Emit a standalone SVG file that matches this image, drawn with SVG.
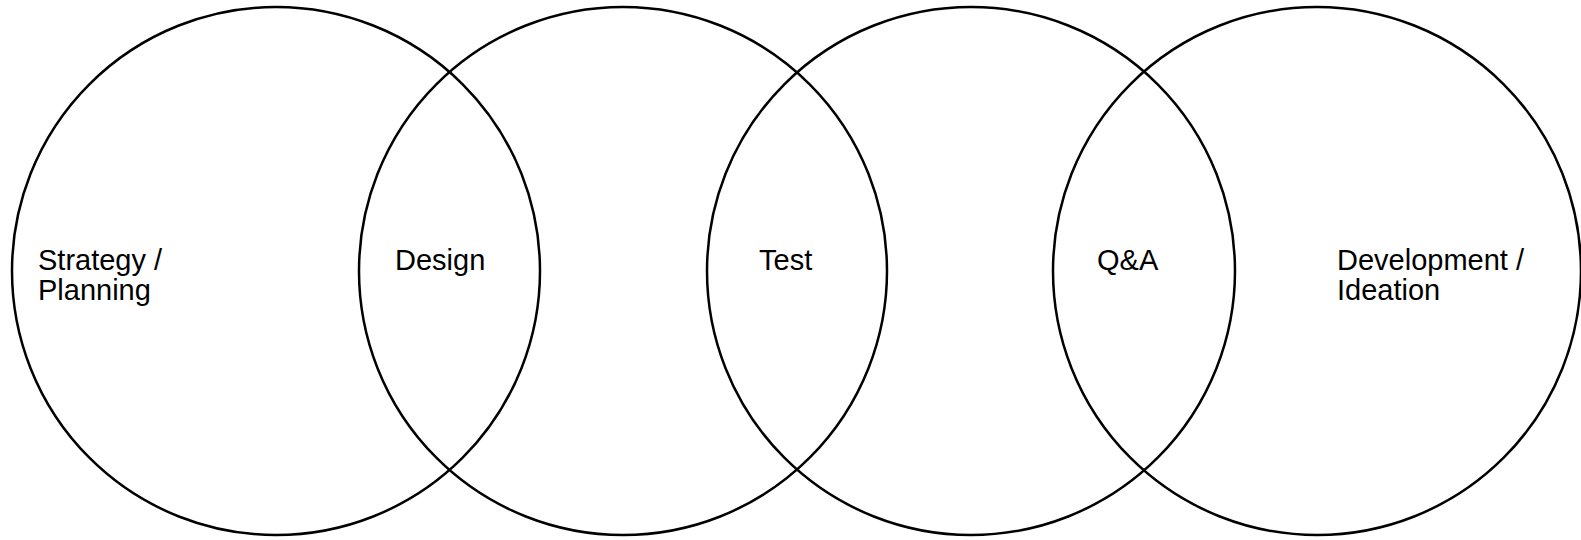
<svg xmlns="http://www.w3.org/2000/svg" width="1581" height="540" viewBox="0 0 1581 540">
<style>
.c{fill:none;stroke:#000;stroke-width:2.5}
.t{font-family:"Liberation Sans",Arial,sans-serif;font-size:29px;fill:#000}
</style>
<rect width="1581" height="540" fill="#fff"/>
<g id="circle-strategy"><circle class="c" cx="276" cy="271" r="264"/><text class="t" x="38" y="270">Strategy /</text><text class="t" x="38" y="300">Planning</text></g>
<g id="circle-design"><circle class="c" cx="623" cy="271" r="264"/><text class="t" x="395" y="270">Design</text></g>
<g id="circle-test"><circle class="c" cx="971" cy="271" r="264"/><text class="t" x="759" y="270">Test</text></g>
<g id="circle-dev"><circle class="c" cx="1317" cy="271" r="264"/><text class="t" x="1097" y="270">Q&amp;A</text><text class="t" x="1337" y="270">Development /</text><text class="t" x="1337" y="300">Ideation</text></g>
<g id="connectors"></g>
</svg>
